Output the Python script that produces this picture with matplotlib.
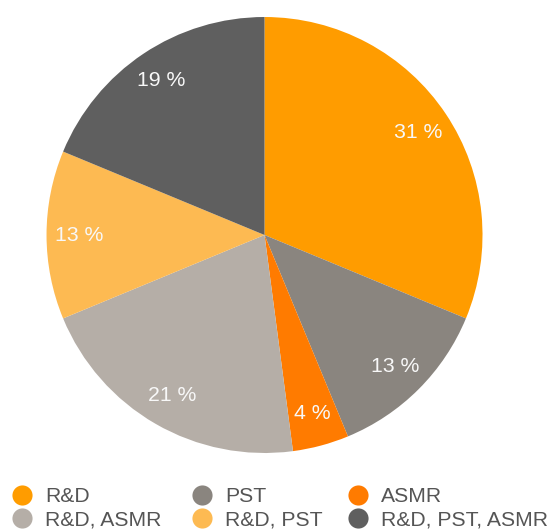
import matplotlib.pyplot as plt
from matplotlib.lines import Line2D

plt.rcParams['font.family'] = ['Liberation Sans', 'DejaVu Sans']

# responses per combination of fields
groups = ['R&D', 'PST', 'ASMR', 'R&D, ASMR', 'R&D, PST', 'R&D, PST, ASMR']
counts = [15, 6, 2, 10, 6, 9]
colors = ['#FF9C00', '#8A857F', '#FF7B00', '#B5AEA7', '#FDBA52', '#5F5F5F']


def pct_label(pct):
    return f"{int(pct + 0.5)} %"


W, H = 548, 530
fig = plt.figure(figsize=(W / 100, H / 100), dpi=100)
ax = fig.add_axes([0.0849, 0.1453, 0.7956, 0.8226])

wedges, texts, autotexts = ax.pie(
    counts,
    colors=colors,
    startangle=90,
    counterclock=False,
    autopct=pct_label,
    pctdistance=0.85,
    wedgeprops=dict(linewidth=0),
    textprops=dict(color='#F8F8F8', fontsize=15.3),
)
ax.set_aspect('auto')
ax.set_xlim(-1, 1)
ax.set_ylim(-1, 1)

# legend: three columns of two entries each
columns = [(0, 3), (1, 4), (2, 5)]
col_x = [11.5, 191.5, 347.5]
for idx, x0 in zip(columns, col_x):
    handles = [Line2D([], [], marker='o', linestyle='', markersize=14.5,
                      markerfacecolor=colors[i], markeredgewidth=0) for i in idx]
    fig.legend(handles, [groups[i] for i in idx], loc='center left',
               bbox_to_anchor=(x0 / W, 0.041), frameon=False,
               fontsize=15.2, labelcolor='#555555',
               borderpad=0, borderaxespad=0,
               handlelength=1.0, handletextpad=0.59, labelspacing=0.22)

fig.savefig('out.png', dpi=100)
